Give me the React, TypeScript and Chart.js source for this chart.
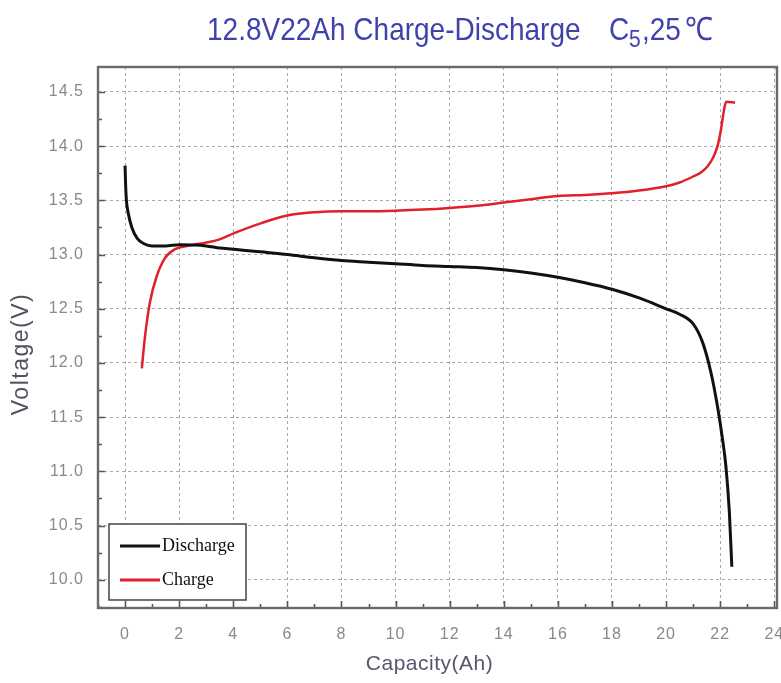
import React, { useEffect, useRef } from 'react';
import { Chart, registerables } from 'chart.js';

Chart.register(...registerables);

const TITLE_MAIN = '12.8V22Ah Charge-Discharge';
const TITLE_C = 'C';
const TITLE_SUB = '5';
const TITLE_NUM = ',25';
const TITLE_UNIT = '℃';
const X_TITLE = 'Capacity(Ah)';
const Y_TITLE = 'Voltage(V)';

const X_TICKS = [0, 2, 4, 6, 8, 10, 12, 14, 16, 18, 20, 22, 24];
const X_MINOR = [-1, 1, 3, 5, 7, 9, 11, 13, 15, 17, 19, 21, 23];
const Y_TICKS = [10.0, 10.5, 11.0, 11.5, 12.0, 12.5, 13.0, 13.5, 14.0, 14.5];
const Y_MINOR = [9.75, 10.25, 10.75, 11.25, 11.75, 12.25, 12.75, 13.25, 13.75, 14.25];

const SERIES_NAMES = ['Discharge', 'Charge'];

const dischargeCap = [0, 0.02, 0.05, 0.12, 0.25, 0.45, 0.7, 1.0, 1.5, 2.0, 3.0, 3.5, 4.0, 5.0, 6.0, 7, 8, 9, 10, 11, 12, 13, 14, 15, 16, 17, 18, 19, 20, 20.5, 21.0, 21.35, 21.66, 21.9, 22.09, 22.21, 22.34, 22.43];
const dischargeV = [13.82, 13.65, 13.5, 13.38, 13.25, 13.15, 13.1, 13.08, 13.08, 13.09, 13.08, 13.06, 13.05, 13.025, 13.0, 12.97, 12.945, 12.93, 12.915, 12.9, 12.89, 12.88, 12.86, 12.83, 12.79, 12.74, 12.68, 12.6, 12.5, 12.45, 12.36, 12.19, 11.91, 11.6, 11.29, 11.05, 10.62, 10.12];

const chargeCap = [0.62, 0.74, 0.92, 1.17, 1.48, 1.85, 2.34, 3.2, 3.5, 4.06, 5.04, 6.0, 7, 8, 9, 10, 11, 12, 13, 14, 15, 16, 17, 18, 19, 20, 20.5, 21.0, 21.3, 21.55, 21.75, 21.9, 22.02, 22.14, 22.22, 22.55];
const chargeV = [11.95, 12.25, 12.56, 12.8, 12.97, 13.05, 13.08, 13.12, 13.14, 13.2, 13.29, 13.36, 13.39, 13.4, 13.4, 13.405, 13.415, 13.43, 13.45, 13.48, 13.51, 13.54, 13.55, 13.565, 13.59, 13.63, 13.665, 13.72, 13.76, 13.82, 13.9, 14.0, 14.14, 14.33, 14.41, 14.4];

const toPts = (xs: number[], ys: number[]) => xs.map((x, i) => ({ x, y: ys[i] }));

const SANS = '"Liberation Sans", Arial, sans-serif';

const spacingPlugin = {
  id: 'spacing',
  beforeDraw(chart: any) {
    (chart.ctx as any).letterSpacing = '1px';
  },
};

const decorPlugin = {
  id: 'decor',
  afterDraw(chart: any) {
    const { ctx, chartArea: a, scales } = chart;
    const xs = scales.x;
    const ys = scales.y;
    ctx.save();
    // inward ticks
    ctx.strokeStyle = '#555';
    ctx.lineWidth = 1.6;
    ctx.beginPath();
    X_TICKS.forEach((v) => {
      const p = Math.round(xs.getPixelForValue(v)) + 0.5;
      ctx.moveTo(p, a.bottom);
      ctx.lineTo(p, a.bottom - 7);
    });
    X_MINOR.forEach((v) => {
      const p = Math.round(xs.getPixelForValue(v)) + 0.5;
      ctx.moveTo(p, a.bottom);
      ctx.lineTo(p, a.bottom - 4);
    });
    Y_TICKS.forEach((v) => {
      const p = Math.round(ys.getPixelForValue(v)) + 0.5;
      ctx.moveTo(a.left, p);
      ctx.lineTo(a.left + 7, p);
    });
    Y_MINOR.forEach((v) => {
      const p = Math.round(ys.getPixelForValue(v)) + 0.5;
      ctx.moveTo(a.left, p);
      ctx.lineTo(a.left + 4, p);
    });
    ctx.stroke();
    // frame
    ctx.strokeStyle = '#6a6a6a';
    ctx.lineWidth = 2.4;
    ctx.strokeRect(a.left, a.top, a.right - a.left, a.bottom - a.top);

    // axis titles
    ctx.textAlign = 'center';
    ctx.textBaseline = 'middle';
    (ctx as any).letterSpacing = '0.5px';
    ctx.fillStyle = '#5a5470';
    ctx.font = `21px ${SANS}`;
    ctx.fillText(X_TITLE, (a.left + a.right) / 2 - 8, 664);
    ctx.save();
    ctx.translate(22, 354);
    ctx.rotate(-Math.PI / 2);
    (ctx as any).letterSpacing = '1.5px';
    ctx.fillStyle = '#52525e';
    ctx.font = `23px ${SANS}`;
    ctx.fillText(Y_TITLE, 0, 0);
    ctx.restore();

    // title (slightly tall, condensed look)
    (ctx as any).letterSpacing = '0px';
    ctx.save();
    ctx.scale(1, 1.15);
    ctx.fillStyle = '#3f42ad';
    ctx.textBaseline = 'alphabetic';
    ctx.textAlign = 'left';
    ctx.font = `28px ${SANS}`;
    const base = 39.5 / 1.15;
    ctx.fillText(TITLE_MAIN, 207, base);
    ctx.fillText(TITLE_C, 609, base);
    ctx.font = `21px ${SANS}`;
    ctx.fillText(TITLE_SUB, 629, 47 / 1.15);
    ctx.font = `28px ${SANS}`;
    ctx.fillText(TITLE_NUM, 642, base);
    ctx.fillText(TITLE_UNIT, 685, base);
    ctx.restore();

    // legend
    const lx = 109, ly = 524, lw = 137, lh = 76;
    ctx.fillStyle = '#ffffff';
    ctx.fillRect(lx, ly, lw, lh);
    ctx.strokeStyle = '#444';
    ctx.lineWidth = 1.5;
    ctx.strokeRect(lx, ly, lw, lh);
    ctx.font = '18px "Liberation Serif", "Times New Roman", serif';
    ctx.textBaseline = 'middle';
    ctx.textAlign = 'left';
    chart.data.datasets.forEach((ds: any, i: number) => {
      const yy = ly + 22 + i * 34;
      ctx.strokeStyle = ds.borderColor;
      ctx.lineWidth = 3;
      ctx.beginPath();
      ctx.moveTo(lx + 11, yy);
      ctx.lineTo(lx + 51, yy);
      ctx.stroke();
      ctx.fillStyle = '#111';
      ctx.fillText(ds.label, lx + 53, yy);
    });
    ctx.restore();
  },
};

export default function App() {
  const ref = useRef<HTMLCanvasElement>(null);
  useEffect(() => {
    if (!ref.current) return;
    const tickFont = { family: SANS, size: 16 };
    const chart = new Chart(ref.current, {
      type: 'line',
      data: {
        datasets: [
          {
            label: SERIES_NAMES[0],
            data: toPts(dischargeCap, dischargeV),
            borderColor: '#111111',
            borderWidth: 3,
            pointRadius: 0,
            cubicInterpolationMode: 'monotone',
          },
          {
            label: SERIES_NAMES[1],
            data: toPts(chargeCap, chargeV),
            borderColor: '#e0202a',
            borderWidth: 2.5,
            pointRadius: 0,
            cubicInterpolationMode: 'monotone',
          },
        ],
      },
      options: {
        animation: false,
        responsive: false,
        layout: { padding: { left: 0, right: 4, top: 67, bottom: 0 } },
        plugins: { legend: { display: false }, tooltip: { enabled: false }, title: { display: false } },
        scales: {
          x: {
            type: 'linear',
            min: -1,
            max: 24.1,
            afterBuildTicks: (s: any) => { s.ticks = X_TICKS.map((v) => ({ value: v })); },
            afterFit: (s: any) => { s.height = 75; s.paddingLeft = 0; s.paddingRight = 0; },
            ticks: { font: tickFont, color: '#878a87', padding: 17, maxRotation: 0, autoSkip: false, callback: (v: any) => String(v) },
            grid: { color: '#a4aab0', lineWidth: 1, drawTicks: false },
            border: { display: false, dash: [3, 3] },
            title: { display: false },
          },
          y: {
            type: 'linear',
            min: 9.74,
            max: 14.73,
            afterBuildTicks: (s: any) => { s.ticks = Y_TICKS.map((v) => ({ value: v })); },
            afterFit: (s: any) => { s.width = 98; s.paddingTop = 0; s.paddingBottom = 0; },
            ticks: { font: tickFont, color: '#878a87', padding: 14, autoSkip: false, callback: (v: any) => Number(v).toFixed(1) },
            grid: { color: '#a4aab0', lineWidth: 1, drawTicks: false },
            border: { display: false, dash: [3, 3] },
            title: { display: false },
          },
        },
      } as any,
      plugins: [spacingPlugin, decorPlugin],
    });
    return () => chart.destroy();
  }, []);
  return (
    <div style={{ position: 'absolute', left: 0, top: 0, width: 781, height: 683, background: '#fff' }}>
      <canvas ref={ref} width={781} height={683} style={{ display: 'block' }} />
    </div>
  );
}
